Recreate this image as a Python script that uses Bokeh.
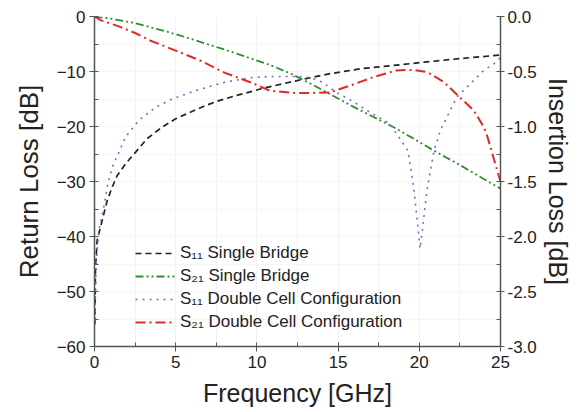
from bokeh.plotting import figure
from bokeh.models import Range1d, LinearAxis, Legend, LegendItem, FixedTicker, NumeralTickFormatter
from bokeh.embed import file_html
from bokeh.resources import INLINE

# Return loss (left axis, dB)
f_s11_single = [0.02, 0.06, 0.16, 0.47, 0.78, 1.09, 1.4, 1.91, 2.52, 3.24, 4.17, 5.0, 5.9, 6.83, 7.66, 8.68, 9.71,
                10.3, 12.7, 14.5, 16.4, 18.4, 20.3, 22.7, 25.0]
s11_single = [-56, -46, -40.7, -37.1, -33.5, -31, -28.9, -26.8, -24.7, -22.2, -20.1, -18.6, -17.4, -16.2, -15.3, -14.4, -13.6,
              -13.1, -11.5, -10.4, -9.5, -8.9, -8.3, -7.6, -7.0]

f_s11_double = [0.02, 0.1, 0.27, 0.57, 0.78, 1.09, 1.5, 1.91, 2.73, 3.76, 4.78, 6.2, 8.07, 9.71, 11.0, 12.5, 13.3, 14.0, 14.9,
                16.0, 17.0, 18.2, 19.3, 19.65, 19.85, 20.05, 20.3, 20.5, 20.9, 21.3, 21.9, 22.3, 23.05, 23.97, 24.6, 25.0]
s11_double = [-55, -45, -38.9, -34.7, -31, -27.4, -24.7, -21.9, -18.9, -16.5, -15, -13.5, -11.9, -11.1, -10.9, -10.9, -11.1, -11.9, -13.8,
              -15.6, -17.5, -19.5, -24.4, -31, -36.5, -42.2, -36, -31, -24.5, -20.7, -17.1, -14.7, -12.5, -9.8, -8.6, -7.5]

# Insertion loss (right axis, dB)
f_s21_single = [0, 1.0, 2.5, 3.5, 5.0, 6.5, 8.0, 9.6, 10.8, 12.1, 13.3, 14.5, 15.8, 17.0, 18.4, 19.65, 20.9, 22.5, 24.0, 25.0]
s21_single = [0, -0.02, -0.06, -0.1, -0.16, -0.23, -0.3, -0.38, -0.44, -0.52, -0.61, -0.705, -0.81, -0.9, -1.005, -1.11,
              -1.22, -1.35, -1.48, -1.565]

f_s21_double = [0, 0.4, 1.5, 2.5, 3.45, 5.0, 6.5, 8.0, 9.8, 10.8, 12.3, 13.3, 14.5, 15.8, 17.2, 18.6, 19.65, 20.5, 21.5, 22.5,
                23.36, 23.97, 24.2, 24.6, 25.0]
s21_double = [0, -0.035, -0.09, -0.15, -0.22, -0.31, -0.4, -0.51, -0.61, -0.675, -0.695, -0.695, -0.69, -0.625, -0.55, -0.49,
              -0.485, -0.505, -0.595, -0.735, -0.855, -1.005, -1.095, -1.3, -1.5]

legend_labels = ["S\u2081\u2081 Single Bridge", "S\u2082\u2081 Single Bridge",
                 "S\u2081\u2081 Double Cell Configuration", "S\u2082\u2081 Double Cell Configuration"]

FONT = "Liberation Sans"
AX = "#555555"
TXT = "#222222"

p = figure(width=578, height=412, output_backend="svg", toolbar_location=None,
           x_range=Range1d(0, 25), y_range=Range1d(-60, 0),
           min_border_left=94, min_border_right=78, min_border_top=16, min_border_bottom=66)
p.outline_line_color = None
p.background_fill_color = "white"
p.extra_y_ranges = {"ins": Range1d(-3, 0)}

p.xgrid.grid_line_color = "#f2f2f2"
p.ygrid.grid_line_color = "#f6f6f6"
p.xgrid.ticker = FixedTicker(ticks=[2.5, 5, 7.5, 10, 12.5, 15, 17.5, 20, 22.5])
p.ygrid.ticker = FixedTicker(ticks=[-55, -50, -45, -40, -35, -30, -25, -20, -15, -10, -5])

r1 = p.line(f_s11_single, s11_single, line_color="#222222", line_width=1.7, line_dash="6 4")
r2 = p.line(f_s21_single, s21_single, y_range_name="ins", line_color="#2f8f2f", line_width=1.8, line_dash="8 3 2 3 2 3")
r3 = p.line(f_s11_double, s11_double, line_color="#7070cc", line_width=1.6, line_dash="2 5")
r4 = p.line(f_s21_double, s21_double, y_range_name="ins", line_color="#e02a2a", line_width=2.0, line_dash="10 4 2 4")

def style_axis(ax, label_size):
    ax.axis_line_color = AX
    ax.axis_line_width = 1.5
    ax.major_tick_line_color = AX
    ax.minor_tick_line_color = AX
    ax.major_tick_out = 5
    ax.major_tick_in = 4
    ax.minor_tick_out = 0
    ax.minor_tick_in = 4
    ax.major_label_standoff = 4
    ax.major_label_text_font = FONT
    ax.major_label_text_font_size = "17px"
    ax.major_label_text_color = TXT
    ax.axis_label_text_font = FONT
    ax.axis_label_text_font_size = label_size
    ax.axis_label_text_font_style = "normal"
    ax.axis_label_text_color = TXT

xa = p.xaxis[0]
xa.ticker = FixedTicker(ticks=[0, 5, 10, 15, 20, 25], minor_ticks=[2.5, 7.5, 12.5, 17.5, 22.5])
xa.axis_label = "Frequency [GHz]"
style_axis(xa, "25px")
xa.axis_label_standoff = 8

ya = p.yaxis[0]
ya.ticker = FixedTicker(ticks=[-60, -50, -40, -30, -20, -10, 0],
                        minor_ticks=[-55, -45, -35, -25, -15, -5])
ya.axis_label = "Return Loss [dB]"
style_axis(ya, "26px")
ya.axis_label_standoff = 10

ra = LinearAxis(y_range_name="ins", axis_label="Insertion Loss [dB]")
ra.ticker = FixedTicker(ticks=[-3.0, -2.5, -2.0, -1.5, -1.0, -0.5, 0.0],
                        minor_ticks=[-2.75, -2.25, -1.75, -1.25, -0.75, -0.25])
ra.formatter = NumeralTickFormatter(format="0.0")
style_axis(ra, "25px")
ra.major_label_standoff = 3
ra.major_tick_out = 4
ra.axis_label_standoff = 4
p.add_layout(ra, "right")

legend = Legend(items=[LegendItem(label=legend_labels[0], renderers=[r1]),
                       LegendItem(label=legend_labels[1], renderers=[r2]),
                       LegendItem(label=legend_labels[2], renderers=[r3]),
                       LegendItem(label=legend_labels[3], renderers=[r4])],
                location=(41, 14), background_fill_alpha=0, border_line_color=None,
                padding=0, margin=0, spacing=3, glyph_width=40, glyph_height=20,
                label_height=20, label_standoff=5,
                label_text_font=FONT, label_text_font_size="17px", label_text_color=TXT)
p.add_layout(legend)

open("out.html", "w").write(file_html(p, INLINE))
